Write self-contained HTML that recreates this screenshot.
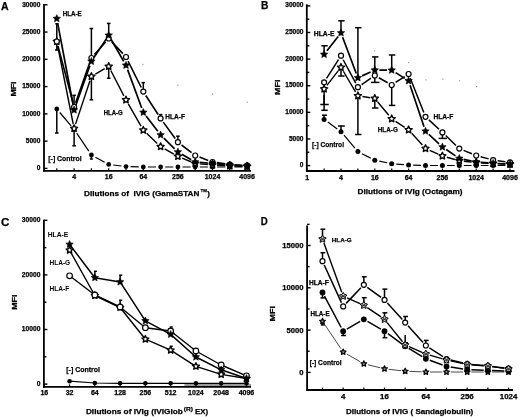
<!DOCTYPE html>
<html><head><meta charset="utf-8"><style>
html,body{margin:0;padding:0;background:#fff;width:520px;height:417px;overflow:hidden}
svg{display:block;will-change:transform;filter:blur(0.35px)}
text{font-family:"Liberation Sans",sans-serif;fill:#000}
</style></head><body>
<svg width="520" height="417" viewBox="0 0 520 417">
<rect width="520" height="417" fill="#fff"/>
<circle cx="142.9" cy="64.3" r="0.65" fill="#888"/>
<circle cx="177.9" cy="85.2" r="0.65" fill="#888"/>
<circle cx="212.6" cy="94.1" r="0.65" fill="#888"/>
<circle cx="247.2" cy="102.2" r="0.65" fill="#888"/>
<circle cx="374.8" cy="50.8" r="0.65" fill="#888"/>
<circle cx="408.7" cy="62.6" r="0.65" fill="#888"/>
<circle cx="426" cy="79.8" r="0.65" fill="#888"/>
<circle cx="442.9" cy="79.1" r="0.65" fill="#888"/>
<circle cx="459.7" cy="80.8" r="0.65" fill="#888"/>
<circle cx="476.6" cy="86.7" r="0.65" fill="#888"/>
<rect x="184.5" y="383.9" width="66.5" height="2.3" fill="#999"/>
<path d="M59.78 112.51 L71.12 125.89 M76.68 133.21 L88.82 151.19 M95.44 157.2 L104.66 162.2 M113.26 164.98 L121.44 166.02 M130.6 166.71 L138.7 166.89 M147.9 167 L156 167 M165.2 167 L173.3 167 M182.5 167 L190.6 167 M199.8 167 L207.9 167 M217.1 167 L225.2 167 M234.4 167 L242.5 167" fill="none" stroke="#000" stroke-width="1.2" stroke-linejoin="round"/>
<path d="M57.7 46.01 L73.2 123.99 M75.55 124.13 L89.95 80.77 M95.38 74.1 L104.72 68.7 M110.81 70.49 L123.89 95.81 M128.28 103.89 L141.02 126.21 M146.64 133.36 L157.26 143.44 M164.61 148.85 L173.89 154.05 M182.15 158.07 L190.95 161.73 M199.78 163.9 L207.92 164.6 M217.09 165.27 L225.21 165.73 M234.4 166.13 L242.5 166.37" fill="none" stroke="#000" stroke-width="1.4" stroke-linejoin="round"/>
<path d="M57.97 45.95 L72.93 102.55 M75.63 102.66 L89.87 62.34 M94.45 54.56 L105.65 41.94 M111.84 41.86 L122.86 53.64 M128.06 61.11 L141.24 87.49 M145.79 95.46 L158.11 114.54 M163.3 122.12 L175.2 138.48 M181.55 145 L191.55 152.7 M199.51 157.12 L208.19 160.38 M217.05 162.66 L225.25 163.84 M234.39 164.77 L242.51 165.23" fill="none" stroke="#000" stroke-width="1.6" stroke-linejoin="round"/>
<path d="M57.66 23.12 L73.24 105.48 M75.64 105.67 L89.86 65.73 M93.94 57.57 L106.16 39.13 M111 39.28 L123.7 61.32 M127.59 69.62 L141.71 108.08 M146.1 116.05 L157.8 131.35 M163.88 138.22 L174.62 148.78 M181.88 154.3 L191.22 159.7 M199.78 162.4 L207.92 163.1 M217.08 163.9 L225.22 164.6 M234.39 165.27 L242.51 165.73" fill="none" stroke="#000" stroke-width="1.7" stroke-linejoin="round"/>
<path d="M327.82 122.11 L337.28 128.99 M343.98 135.21 L354.92 148.09 M362 153.69 L370.7 158.11 M379.3 161.13 L387.2 162.77 M396.29 164.05 L404.01 164.65 M413.2 165.14 L420.9 165.36 M430.1 165.5 L437.8 165.5 M447 165.5 L454.7 165.5 M463.9 165.5 L471.6 165.5 M480.8 165.5 L488.5 165.5 M497.7 165.5 L505.4 165.5" fill="none" stroke="#000" stroke-width="1.2" stroke-linejoin="round"/>
<path d="M326.93 85.37 L338.17 70.93 M343.35 71.26 L355.55 91.84 M362.45 96.5 L370.25 97.7 M377.73 101.94 L388.77 115.26 M395.56 121.31 L404.74 127.29 M411.68 133.21 L422.42 145.09 M429.7 150.37 L438.2 154.13 M446.83 157.23 L454.87 159.47 M463.87 161.19 L471.63 162.01 M480.79 162.77 L488.51 163.23 M497.7 163.69 L505.4 164.01" fill="none" stroke="#000" stroke-width="1.4" stroke-linejoin="round"/>
<path d="M326.57 78.42 L338.53 59.58 M343.17 59.75 L355.73 83.15 M361.68 84.58 L371.02 78.12 M378.81 77.75 L387.69 82.75 M395.56 82.49 L404.74 76.51 M410.29 78.28 L423.81 112.52 M428.88 119.92 L439.02 129.28 M445.72 135.58 L455.98 145.42 M463.56 150.34 L471.94 153.76 M480.64 156.71 L488.66 158.89 M497.66 160.72 L505.44 161.78" fill="none" stroke="#000" stroke-width="1.5" stroke-linejoin="round"/>
<path d="M326.94 50.78 L338.16 36.52 M342.62 37.21 L356.28 73.49 M362.09 75.89 L370.61 72.01 M379.4 70.13 L387.1 70.17 M395.6 72.64 L404.7 78.36 M410.06 85.16 L424.04 126.84 M428.86 134.34 L439.04 143.86 M446.21 149.57 L455.49 155.83 M463.8 159.36 L471.7 161.04 M480.79 162.35 L488.51 162.95 M497.7 163.49 L505.4 163.81" fill="none" stroke="#000" stroke-width="1.7" stroke-linejoin="round"/>
<path d="M69.57 381.2 L94.84 383 L120.11 383.3 L145.38 383.3 L170.65 383.3 L195.92 383.3 L221.19 383.3 L246.46 383.3" fill="none" stroke="#000" stroke-width="1.2" stroke-linejoin="round"/>
<path d="M69.57 250.2 L94.84 295.5 L120.11 307.5 L145.38 339.2 L170.65 350.2 L195.92 366.3 L221.19 374.4 L246.46 378.5" fill="none" stroke="#000" stroke-width="1.4" stroke-linejoin="round"/>
<path d="M69.57 275.8 L94.84 295 L120.11 307 L145.38 327.7 L170.65 331 L195.92 351 L221.19 365 L246.46 375.8" fill="none" stroke="#000" stroke-width="1.4" stroke-linejoin="round"/>
<path d="M69.57 244.4 L94.84 277.7 L120.11 281.9 L145.38 320.8 L170.65 334.4 L195.92 357 L221.19 369.8 L246.46 378.5" fill="none" stroke="#000" stroke-width="1.5" stroke-linejoin="round"/>
<path d="M324.85 324.78 L340.82 348.52 M346.82 354.08 L360.19 361.72 M367.92 364.79 L380.43 367.81 M388.68 369.28 L401.01 370.72 M409.38 371.36 L421.65 371.84 M430.05 372 L442.32 372 M450.72 372 L462.99 372 M471.39 372 L483.66 372 M492.06 372 L504.33 372" fill="none" stroke="#333" stroke-width="0.9" stroke-linejoin="round"/>
<path d="M324.48 296.2 L341.19 327.5 M346.81 329.1 L360.2 321.4 M367.48 321.4 L380.87 329.1 M387.9 333.68 L401.79 343.82 M408.77 348.47 L422.26 356.63 M429.79 360.27 L442.58 365.03 M450.68 367.1 L463.03 368.9 M471.39 369.7 L483.66 370.3 M492.06 370.6 L504.33 370.9" fill="none" stroke="#000" stroke-width="1.5" stroke-linejoin="round"/>
<path d="M323.93 243.05 L341.74 292.25 M347.01 297.89 L360 303.61 M367.32 307.66 L381.03 316.94 M387.14 322.57 L402.55 341.73 M409.03 346.68 L422 352.32 M429.88 355.17 L442.49 358.83 M450.62 360.91 L463.09 363.69 M471.38 364.88 L483.67 365.72 M492.02 366.6 L504.37 368.4" fill="none" stroke="#000" stroke-width="1.4" stroke-linejoin="round"/>
<path d="M324.25 265.02 L341.42 302.58 M346.07 303.37 L360.94 287.83 M367.23 287.28 L381.12 297.42 M387.34 303.01 L402.35 319.49 M407.99 325.72 L423.04 342.38 M429.37 347.8 L443 356.7 M450.6 359.99 L463.11 363.01 M471.37 364.4 L483.68 365.6 M492.03 366.5 L504.36 368" fill="none" stroke="#000" stroke-width="1.5" stroke-linejoin="round"/>
<text x="1" y="9.7" font-size="10.2" font-weight="bold" text-anchor="start" textLength="7.6" lengthAdjust="spacingAndGlyphs" stroke="#000" stroke-width="0.25">A</text>
<path d="M44 4 V171.5" stroke="#000" stroke-width="1.8"/>
<path d="M44 168.4 H47.5" stroke="#000" stroke-width="1.4"/>
<path d="M44 141.13 H47.5" stroke="#000" stroke-width="1.4"/>
<path d="M44 113.86 H47.5" stroke="#000" stroke-width="1.4"/>
<path d="M44 86.59 H47.5" stroke="#000" stroke-width="1.4"/>
<path d="M44 59.32 H47.5" stroke="#000" stroke-width="1.4"/>
<path d="M44 32.05 H47.5" stroke="#000" stroke-width="1.4"/>
<path d="M44 4.78 H47.5" stroke="#000" stroke-width="1.4"/>
<text x="40.4" y="170.3" font-size="7.0" font-weight="bold" text-anchor="end" textLength="3.65" lengthAdjust="spacingAndGlyphs" stroke="#000" stroke-width="0.25">0</text>
<text x="40.4" y="143.03" font-size="7.0" font-weight="bold" text-anchor="end" textLength="14.6" lengthAdjust="spacingAndGlyphs" stroke="#000" stroke-width="0.25">5000</text>
<text x="40.4" y="115.76" font-size="7.0" font-weight="bold" text-anchor="end" textLength="18.25" lengthAdjust="spacingAndGlyphs" stroke="#000" stroke-width="0.25">10000</text>
<text x="40.4" y="88.49" font-size="7.0" font-weight="bold" text-anchor="end" textLength="18.25" lengthAdjust="spacingAndGlyphs" stroke="#000" stroke-width="0.25">15000</text>
<text x="40.4" y="61.22" font-size="7.0" font-weight="bold" text-anchor="end" textLength="18.25" lengthAdjust="spacingAndGlyphs" stroke="#000" stroke-width="0.25">20000</text>
<text x="40.4" y="33.95" font-size="7.0" font-weight="bold" text-anchor="end" textLength="18.25" lengthAdjust="spacingAndGlyphs" stroke="#000" stroke-width="0.25">25000</text>
<text x="40.4" y="6.68" font-size="7.0" font-weight="bold" text-anchor="end" textLength="18.25" lengthAdjust="spacingAndGlyphs" stroke="#000" stroke-width="0.25">30000</text>
<path d="M43 170.8 H251" stroke="#000" stroke-width="1.8"/>
<path d="M56.8 170.8 V168.3" stroke="#000" stroke-width="1.2"/>
<path d="M74.1 170.8 V168.3" stroke="#000" stroke-width="1.2"/>
<path d="M91.4 170.8 V168.3" stroke="#000" stroke-width="1.2"/>
<path d="M108.7 170.8 V168.3" stroke="#000" stroke-width="1.2"/>
<path d="M126 170.8 V168.3" stroke="#000" stroke-width="1.2"/>
<path d="M143.3 170.8 V168.3" stroke="#000" stroke-width="1.2"/>
<path d="M160.6 170.8 V168.3" stroke="#000" stroke-width="1.2"/>
<path d="M177.9 170.8 V168.3" stroke="#000" stroke-width="1.2"/>
<path d="M195.2 170.8 V168.3" stroke="#000" stroke-width="1.2"/>
<path d="M212.5 170.8 V168.3" stroke="#000" stroke-width="1.2"/>
<path d="M229.8 170.8 V168.3" stroke="#000" stroke-width="1.2"/>
<path d="M247.1 170.8 V168.3" stroke="#000" stroke-width="1.2"/>
<text x="72.15" y="179.4" font-size="7.0" font-weight="bold" text-anchor="start" textLength="3.9" lengthAdjust="spacingAndGlyphs" stroke="#000" stroke-width="0.25">4</text>
<text x="104.8" y="179.4" font-size="7.0" font-weight="bold" text-anchor="start" textLength="7.8" lengthAdjust="spacingAndGlyphs" stroke="#000" stroke-width="0.25">16</text>
<text x="139.4" y="179.4" font-size="7.0" font-weight="bold" text-anchor="start" textLength="7.8" lengthAdjust="spacingAndGlyphs" stroke="#000" stroke-width="0.25">64</text>
<text x="172.05" y="179.4" font-size="7.0" font-weight="bold" text-anchor="start" textLength="11.7" lengthAdjust="spacingAndGlyphs" stroke="#000" stroke-width="0.25">256</text>
<text x="204.7" y="179.4" font-size="7.0" font-weight="bold" text-anchor="start" textLength="15.6" lengthAdjust="spacingAndGlyphs" stroke="#000" stroke-width="0.25">1024</text>
<text x="239.3" y="179.4" font-size="7.0" font-weight="bold" text-anchor="start" textLength="15.6" lengthAdjust="spacingAndGlyphs" stroke="#000" stroke-width="0.25">4096</text>
<text transform="translate(16.1 89) rotate(-90)" x="0" y="0" font-size="7.8" font-weight="bold" stroke="#000" stroke-width="0.3" text-anchor="middle" textLength="15.1" lengthAdjust="spacingAndGlyphs">MFI</text>
<text x="84" y="196" font-size="8.1" font-weight="bold" text-anchor="start" textLength="115.4" lengthAdjust="spacingAndGlyphs" stroke="#000" stroke-width="0.25">Dilutions of&#160; IVIG (GamaSTAN</text>
<text x="200.6" y="191.8" font-size="4.4" font-weight="bold" text-anchor="start" textLength="6.3" lengthAdjust="spacingAndGlyphs" stroke="#000" stroke-width="0.25">TM</text>
<text x="207.3" y="196" font-size="8.1" font-weight="bold" text-anchor="start" textLength="2.7" lengthAdjust="spacingAndGlyphs" stroke="#000" stroke-width="0.25">)</text>
<text x="62.7" y="15.6" font-size="6.4" font-weight="bold" text-anchor="start" textLength="19" lengthAdjust="spacingAndGlyphs" stroke="#000" stroke-width="0.25">HLA-E</text>
<text x="103.7" y="114.6" font-size="6.4" font-weight="bold" text-anchor="start" textLength="19" lengthAdjust="spacingAndGlyphs" stroke="#000" stroke-width="0.25">HLA-G</text>
<text x="165.3" y="119" font-size="6.6" font-weight="bold" text-anchor="start" textLength="19.6" lengthAdjust="spacingAndGlyphs" stroke="#000" stroke-width="0.25">HLA-F</text>
<text x="48.3" y="160.6" font-size="7.9" font-weight="bold" text-anchor="start" textLength="33.4" lengthAdjust="spacingAndGlyphs" stroke="#000" stroke-width="0.25">[-] Control</text>
<text x="260.9" y="9.4" font-size="10.9" font-weight="bold" text-anchor="start" textLength="7.4" lengthAdjust="spacingAndGlyphs" stroke="#000" stroke-width="0.25">B</text>
<path d="M306.8 4.3 V171.8" stroke="#000" stroke-width="1.8"/>
<path d="M306.8 165.6 H310.3" stroke="#000" stroke-width="1.4"/>
<path d="M306.8 152.29 H309.3" stroke="#000" stroke-width="1.4"/>
<path d="M306.8 138.98 H310.3" stroke="#000" stroke-width="1.4"/>
<path d="M306.8 125.67 H309.3" stroke="#000" stroke-width="1.4"/>
<path d="M306.8 112.36 H310.3" stroke="#000" stroke-width="1.4"/>
<path d="M306.8 99.05 H309.3" stroke="#000" stroke-width="1.4"/>
<path d="M306.8 85.74 H310.3" stroke="#000" stroke-width="1.4"/>
<path d="M306.8 72.43 H309.3" stroke="#000" stroke-width="1.4"/>
<path d="M306.8 59.12 H310.3" stroke="#000" stroke-width="1.4"/>
<path d="M306.8 45.81 H309.3" stroke="#000" stroke-width="1.4"/>
<path d="M306.8 32.5 H310.3" stroke="#000" stroke-width="1.4"/>
<path d="M306.8 19.19 H309.3" stroke="#000" stroke-width="1.4"/>
<path d="M306.8 5.88 H310.3" stroke="#000" stroke-width="1.4"/>
<text x="303.5" y="167.2" font-size="7.0" font-weight="bold" text-anchor="end" textLength="3.65" lengthAdjust="spacingAndGlyphs" stroke="#000" stroke-width="0.25">0</text>
<text x="303.5" y="140.58" font-size="7.0" font-weight="bold" text-anchor="end" textLength="14.6" lengthAdjust="spacingAndGlyphs" stroke="#000" stroke-width="0.25">5000</text>
<text x="303.5" y="113.96" font-size="7.0" font-weight="bold" text-anchor="end" textLength="18.25" lengthAdjust="spacingAndGlyphs" stroke="#000" stroke-width="0.25">10000</text>
<text x="303.5" y="87.34" font-size="7.0" font-weight="bold" text-anchor="end" textLength="18.25" lengthAdjust="spacingAndGlyphs" stroke="#000" stroke-width="0.25">15000</text>
<text x="303.5" y="60.72" font-size="7.0" font-weight="bold" text-anchor="end" textLength="18.25" lengthAdjust="spacingAndGlyphs" stroke="#000" stroke-width="0.25">20000</text>
<text x="303.5" y="34.1" font-size="7.0" font-weight="bold" text-anchor="end" textLength="18.25" lengthAdjust="spacingAndGlyphs" stroke="#000" stroke-width="0.25">25000</text>
<text x="303.5" y="7.48" font-size="7.0" font-weight="bold" text-anchor="end" textLength="18.25" lengthAdjust="spacingAndGlyphs" stroke="#000" stroke-width="0.25">30000</text>
<path d="M306 171 H514.5" stroke="#000" stroke-width="1.8"/>
<path d="M307.2 171 V168.5" stroke="#000" stroke-width="1.2"/>
<path d="M324.1 171 V168.5" stroke="#000" stroke-width="1.2"/>
<path d="M341 171 V168.5" stroke="#000" stroke-width="1.2"/>
<path d="M357.9 171 V168.5" stroke="#000" stroke-width="1.2"/>
<path d="M374.8 171 V168.5" stroke="#000" stroke-width="1.2"/>
<path d="M391.7 171 V168.5" stroke="#000" stroke-width="1.2"/>
<path d="M408.6 171 V168.5" stroke="#000" stroke-width="1.2"/>
<path d="M425.5 171 V168.5" stroke="#000" stroke-width="1.2"/>
<path d="M442.4 171 V168.5" stroke="#000" stroke-width="1.2"/>
<path d="M459.3 171 V168.5" stroke="#000" stroke-width="1.2"/>
<path d="M476.2 171 V168.5" stroke="#000" stroke-width="1.2"/>
<path d="M493.1 171 V168.5" stroke="#000" stroke-width="1.2"/>
<path d="M510 171 V168.5" stroke="#000" stroke-width="1.2"/>
<text x="305.25" y="179.6" font-size="7.0" font-weight="bold" text-anchor="start" textLength="3.9" lengthAdjust="spacingAndGlyphs" stroke="#000" stroke-width="0.25">1</text>
<text x="339.05" y="179.6" font-size="7.0" font-weight="bold" text-anchor="start" textLength="3.9" lengthAdjust="spacingAndGlyphs" stroke="#000" stroke-width="0.25">4</text>
<text x="370.9" y="179.6" font-size="7.0" font-weight="bold" text-anchor="start" textLength="7.8" lengthAdjust="spacingAndGlyphs" stroke="#000" stroke-width="0.25">16</text>
<text x="404.7" y="179.6" font-size="7.0" font-weight="bold" text-anchor="start" textLength="7.8" lengthAdjust="spacingAndGlyphs" stroke="#000" stroke-width="0.25">64</text>
<text x="436.55" y="179.6" font-size="7.0" font-weight="bold" text-anchor="start" textLength="11.7" lengthAdjust="spacingAndGlyphs" stroke="#000" stroke-width="0.25">256</text>
<text x="468.4" y="179.6" font-size="7.0" font-weight="bold" text-anchor="start" textLength="15.6" lengthAdjust="spacingAndGlyphs" stroke="#000" stroke-width="0.25">1024</text>
<text x="502.2" y="179.6" font-size="7.0" font-weight="bold" text-anchor="start" textLength="15.6" lengthAdjust="spacingAndGlyphs" stroke="#000" stroke-width="0.25">4096</text>
<text transform="translate(279.6 87.3) rotate(-90)" x="0" y="0" font-size="7.8" font-weight="bold" stroke="#000" stroke-width="0.3" text-anchor="middle" textLength="15.3" lengthAdjust="spacingAndGlyphs">MFI</text>
<text x="357.5" y="194.3" font-size="7.9" font-weight="bold" text-anchor="start" textLength="105" lengthAdjust="spacingAndGlyphs" stroke="#000" stroke-width="0.25">Dilutions of IVIg (Octagam)</text>
<text x="313.8" y="36.3" font-size="7" font-weight="bold" text-anchor="start" textLength="20.7" lengthAdjust="spacingAndGlyphs" stroke="#000" stroke-width="0.25">HLA-E</text>
<text x="377.8" y="132.3" font-size="7" font-weight="bold" text-anchor="start" textLength="20" lengthAdjust="spacingAndGlyphs" stroke="#000" stroke-width="0.25">HLA-G</text>
<text x="433.4" y="119.4" font-size="7" font-weight="bold" text-anchor="start" textLength="20" lengthAdjust="spacingAndGlyphs" stroke="#000" stroke-width="0.25">HLA-F</text>
<text x="312" y="146.6" font-size="7.8" font-weight="bold" text-anchor="start" textLength="32" lengthAdjust="spacingAndGlyphs" stroke="#000" stroke-width="0.25">[-] Control</text>
<text x="1" y="225.5" font-size="11.2" font-weight="bold" text-anchor="start" textLength="8.4" lengthAdjust="spacingAndGlyphs" stroke="#000" stroke-width="0.25">C</text>
<path d="M43.9 219.8 V387.7" stroke="#000" stroke-width="1.8"/>
<path d="M43.9 384.1 H47.4" stroke="#000" stroke-width="1.4"/>
<path d="M43.9 356.8 H46.4" stroke="#000" stroke-width="1.4"/>
<path d="M43.9 329.5 H47.4" stroke="#000" stroke-width="1.4"/>
<path d="M43.9 302.2 H46.4" stroke="#000" stroke-width="1.4"/>
<path d="M43.9 274.9 H47.4" stroke="#000" stroke-width="1.4"/>
<path d="M43.9 247.6 H46.4" stroke="#000" stroke-width="1.4"/>
<path d="M43.9 220.3 H47.4" stroke="#000" stroke-width="1.4"/>
<text x="40.4" y="385.9" font-size="7.0" font-weight="bold" text-anchor="end" textLength="3.72" lengthAdjust="spacingAndGlyphs" stroke="#000" stroke-width="0.25">0</text>
<text x="40.4" y="331.3" font-size="7.0" font-weight="bold" text-anchor="end" textLength="18.6" lengthAdjust="spacingAndGlyphs" stroke="#000" stroke-width="0.25">10000</text>
<text x="40.4" y="276.7" font-size="7.0" font-weight="bold" text-anchor="end" textLength="18.6" lengthAdjust="spacingAndGlyphs" stroke="#000" stroke-width="0.25">20000</text>
<text x="40.4" y="222.1" font-size="7.0" font-weight="bold" text-anchor="end" textLength="18.6" lengthAdjust="spacingAndGlyphs" stroke="#000" stroke-width="0.25">30000</text>
<path d="M43 386.9 H251" stroke="#000" stroke-width="1.8"/>
<path d="M44.3 386.9 V384.4" stroke="#000" stroke-width="1.2"/>
<path d="M69.57 386.9 V384.4" stroke="#000" stroke-width="1.2"/>
<path d="M94.84 386.9 V384.4" stroke="#000" stroke-width="1.2"/>
<path d="M120.11 386.9 V384.4" stroke="#000" stroke-width="1.2"/>
<path d="M145.38 386.9 V384.4" stroke="#000" stroke-width="1.2"/>
<path d="M170.65 386.9 V384.4" stroke="#000" stroke-width="1.2"/>
<path d="M195.92 386.9 V384.4" stroke="#000" stroke-width="1.2"/>
<path d="M221.19 386.9 V384.4" stroke="#000" stroke-width="1.2"/>
<path d="M246.46 386.9 V384.4" stroke="#000" stroke-width="1.2"/>
<text x="40.4" y="395" font-size="7.0" font-weight="bold" text-anchor="start" textLength="7.8" lengthAdjust="spacingAndGlyphs" stroke="#000" stroke-width="0.25">16</text>
<text x="65.67" y="395" font-size="7.0" font-weight="bold" text-anchor="start" textLength="7.8" lengthAdjust="spacingAndGlyphs" stroke="#000" stroke-width="0.25">32</text>
<text x="90.94" y="395" font-size="7.0" font-weight="bold" text-anchor="start" textLength="7.8" lengthAdjust="spacingAndGlyphs" stroke="#000" stroke-width="0.25">64</text>
<text x="114.26" y="395" font-size="7.0" font-weight="bold" text-anchor="start" textLength="11.7" lengthAdjust="spacingAndGlyphs" stroke="#000" stroke-width="0.25">128</text>
<text x="139.53" y="395" font-size="7.0" font-weight="bold" text-anchor="start" textLength="11.7" lengthAdjust="spacingAndGlyphs" stroke="#000" stroke-width="0.25">256</text>
<text x="164.8" y="395" font-size="7.0" font-weight="bold" text-anchor="start" textLength="11.7" lengthAdjust="spacingAndGlyphs" stroke="#000" stroke-width="0.25">512</text>
<text x="188.12" y="395" font-size="7.0" font-weight="bold" text-anchor="start" textLength="15.6" lengthAdjust="spacingAndGlyphs" stroke="#000" stroke-width="0.25">1024</text>
<text x="213.39" y="395" font-size="7.0" font-weight="bold" text-anchor="start" textLength="15.6" lengthAdjust="spacingAndGlyphs" stroke="#000" stroke-width="0.25">2048</text>
<text x="238.66" y="395" font-size="7.0" font-weight="bold" text-anchor="start" textLength="15.6" lengthAdjust="spacingAndGlyphs" stroke="#000" stroke-width="0.25">4096</text>
<text transform="translate(16.7 302.2) rotate(-90)" x="0" y="0" font-size="7.8" font-weight="bold" stroke="#000" stroke-width="0.3" text-anchor="middle" textLength="15.2" lengthAdjust="spacingAndGlyphs">MFI</text>
<text x="85.9" y="413.6" font-size="7.9" font-weight="bold" text-anchor="start" textLength="97" lengthAdjust="spacingAndGlyphs" stroke="#000" stroke-width="0.25">Dilutions of IVIg (IVIGlob</text>
<text x="183.8" y="410.6" font-size="5.6" font-weight="bold" text-anchor="start" textLength="9.2" lengthAdjust="spacingAndGlyphs" stroke="#000" stroke-width="0.25">(R)</text>
<text x="195" y="413.7" font-size="7.9" font-weight="bold" text-anchor="start" textLength="13.1" lengthAdjust="spacingAndGlyphs" stroke="#000" stroke-width="0.25">EX)</text>
<text x="47.7" y="237.4" font-size="7" font-weight="bold" text-anchor="start" textLength="20.7" lengthAdjust="spacingAndGlyphs">HLA-E</text>
<text x="49.5" y="264.6" font-size="7" font-weight="bold" text-anchor="start" textLength="20.7" lengthAdjust="spacingAndGlyphs">HLA-G</text>
<text x="49.5" y="291.3" font-size="7" font-weight="bold" text-anchor="start" textLength="19.8" lengthAdjust="spacingAndGlyphs">HLA-F</text>
<text x="66.3" y="372.4" font-size="7.6" font-weight="bold" text-anchor="start" textLength="33.7" lengthAdjust="spacingAndGlyphs" stroke="#000" stroke-width="0.25">[-] Control</text>
<text x="260.7" y="225.2" font-size="10.6" font-weight="bold" text-anchor="start" textLength="7" lengthAdjust="spacingAndGlyphs" stroke="#000" stroke-width="0.25">D</text>
<path d="M307.1 225.6 V390.6" stroke="#000" stroke-width="1.8"/>
<path d="M307.1 372.4 H310.6" stroke="#000" stroke-width="1.4"/>
<path d="M307.1 351.25 H309.6" stroke="#000" stroke-width="1.4"/>
<path d="M307.1 330.1 H310.6" stroke="#000" stroke-width="1.4"/>
<path d="M307.1 308.95 H309.6" stroke="#000" stroke-width="1.4"/>
<path d="M307.1 287.8 H310.6" stroke="#000" stroke-width="1.4"/>
<path d="M307.1 266.65 H309.6" stroke="#000" stroke-width="1.4"/>
<path d="M307.1 245.5 H310.6" stroke="#000" stroke-width="1.4"/>
<path d="M307.1 224.35 H309.6" stroke="#000" stroke-width="1.4"/>
<text x="303.4" y="374.8" font-size="7.0" font-weight="bold" text-anchor="end" textLength="4.25" lengthAdjust="spacingAndGlyphs" stroke="#000" stroke-width="0.25">0</text>
<text x="303.4" y="332.5" font-size="7.0" font-weight="bold" text-anchor="end" textLength="17" lengthAdjust="spacingAndGlyphs" stroke="#000" stroke-width="0.25">5000</text>
<text x="303.4" y="290.2" font-size="7.0" font-weight="bold" text-anchor="end" textLength="21.25" lengthAdjust="spacingAndGlyphs" stroke="#000" stroke-width="0.25">10000</text>
<text x="303.4" y="247.9" font-size="7.0" font-weight="bold" text-anchor="end" textLength="21.25" lengthAdjust="spacingAndGlyphs" stroke="#000" stroke-width="0.25">15000</text>
<path d="M306.2 390 H513" stroke="#000" stroke-width="1.8"/>
<path d="M322.5 390 V387.5" stroke="#000" stroke-width="1.2"/>
<path d="M343.17 390 V387.5" stroke="#000" stroke-width="1.2"/>
<path d="M363.84 390 V387.5" stroke="#000" stroke-width="1.2"/>
<path d="M384.51 390 V387.5" stroke="#000" stroke-width="1.2"/>
<path d="M405.18 390 V387.5" stroke="#000" stroke-width="1.2"/>
<path d="M425.85 390 V387.5" stroke="#000" stroke-width="1.2"/>
<path d="M446.52 390 V387.5" stroke="#000" stroke-width="1.2"/>
<path d="M467.19 390 V387.5" stroke="#000" stroke-width="1.2"/>
<path d="M487.86 390 V387.5" stroke="#000" stroke-width="1.2"/>
<path d="M508.53 390 V387.5" stroke="#000" stroke-width="1.2"/>
<text x="340.99" y="399.3" font-size="7.0" font-weight="bold" text-anchor="start" textLength="4.37" lengthAdjust="spacingAndGlyphs" stroke="#000" stroke-width="0.25">4</text>
<text x="380.14" y="399.3" font-size="7.0" font-weight="bold" text-anchor="start" textLength="8.74" lengthAdjust="spacingAndGlyphs" stroke="#000" stroke-width="0.25">16</text>
<text x="421.48" y="399.3" font-size="7.0" font-weight="bold" text-anchor="start" textLength="8.74" lengthAdjust="spacingAndGlyphs" stroke="#000" stroke-width="0.25">64</text>
<text x="460.63" y="399.3" font-size="7.0" font-weight="bold" text-anchor="start" textLength="13.11" lengthAdjust="spacingAndGlyphs" stroke="#000" stroke-width="0.25">256</text>
<text x="499.79" y="399.3" font-size="7.0" font-weight="bold" text-anchor="start" textLength="17.48" lengthAdjust="spacingAndGlyphs" stroke="#000" stroke-width="0.25">1024</text>
<text transform="translate(275.1 313.8) rotate(-90)" x="0" y="0" font-size="7.8" font-weight="bold" stroke="#000" stroke-width="0.3" text-anchor="middle" textLength="15.4" lengthAdjust="spacingAndGlyphs">MFI</text>
<text x="345.9" y="414.2" font-size="7.9" font-weight="bold" text-anchor="start" textLength="127.4" lengthAdjust="spacingAndGlyphs" stroke="#000" stroke-width="0.25">Dilutions of IVIG ( Sandaglobulin)</text>
<text x="331.8" y="242" font-size="6.2" font-weight="bold" text-anchor="start" textLength="19.9" lengthAdjust="spacingAndGlyphs" stroke="#000" stroke-width="0.25">HLA-G</text>
<text x="309" y="285.3" font-size="6.6" font-weight="bold" text-anchor="start" textLength="19.8" lengthAdjust="spacingAndGlyphs" stroke="#000" stroke-width="0.25">HLA-F</text>
<text x="310.4" y="315.9" font-size="6.6" font-weight="bold" text-anchor="start" textLength="19.3" lengthAdjust="spacingAndGlyphs" stroke="#000" stroke-width="0.25">HLA-E</text>
<text x="309.7" y="364.5" font-size="7.2" font-weight="bold" text-anchor="start" textLength="31.9" lengthAdjust="spacingAndGlyphs" stroke="#000" stroke-width="0.25">[-] Control</text>
<path d="M56.8 40 V23.8" stroke="#000" stroke-width="1.5"/>
<path d="M55.3 23.8 H58.3" stroke="#000" stroke-width="1.5"/>
<path d="M56.8 42 V50" stroke="#000" stroke-width="1.5"/>
<path d="M55 50 H58.6" stroke="#000" stroke-width="1.5"/>
<path d="M74.1 108 V95.3" stroke="#000" stroke-width="1.5"/>
<path d="M72.3 95.3 H75.9" stroke="#000" stroke-width="1.5"/>
<path d="M74.1 129 V145.8" stroke="#000" stroke-width="1.5"/>
<path d="M72.3 145.8 H75.9" stroke="#000" stroke-width="1.5"/>
<path d="M91.4 58 V28.5" stroke="#000" stroke-width="1.5"/>
<path d="M89.6 28.5 H93.2" stroke="#000" stroke-width="1.5"/>
<path d="M91.4 76.4 V99.8" stroke="#000" stroke-width="1.5"/>
<path d="M89.6 99.8 H93.2" stroke="#000" stroke-width="1.5"/>
<path d="M108.7 36 V23.4" stroke="#000" stroke-width="1.5"/>
<path d="M106.9 23.4 H110.5" stroke="#000" stroke-width="1.5"/>
<path d="M108.7 66.4 V78.2" stroke="#000" stroke-width="1.5"/>
<path d="M106.9 78.2 H110.5" stroke="#000" stroke-width="1.5"/>
<path d="M143.3 91.6 V82.6" stroke="#000" stroke-width="1.5"/>
<path d="M141.5 82.6 H145.1" stroke="#000" stroke-width="1.5"/>
<path d="M160.6 118.4 V114.6" stroke="#000" stroke-width="1.5"/>
<path d="M158.8 114.6 H162.4" stroke="#000" stroke-width="1.5"/>
<path d="M177.9 142.2 V136.2" stroke="#000" stroke-width="1.5"/>
<path d="M176.1 136.2 H179.7" stroke="#000" stroke-width="1.5"/>
<path d="M56.8 109 V133" stroke="#000" stroke-width="1.5"/>
<path d="M55 133 H58.6" stroke="#000" stroke-width="1.5"/>
<path d="M91.4 155 V159" stroke="#000" stroke-width="1.5"/>
<path d="M89.9 159 H92.9" stroke="#000" stroke-width="1.5"/>
<path d="M324.1 54.4 V45.8" stroke="#000" stroke-width="1.5"/>
<path d="M321.3 45.8 H327.7" stroke="#000" stroke-width="1.5"/>
<path d="M341 32.9 V20.8" stroke="#000" stroke-width="1.5"/>
<path d="M338.2 20.8 H344.6" stroke="#000" stroke-width="1.5"/>
<path d="M357.9 80 V27.7" stroke="#000" stroke-width="1.5"/>
<path d="M355.1 27.7 H361.5" stroke="#000" stroke-width="1.5"/>
<path d="M357.9 95.8 V134.5" stroke="#000" stroke-width="1.5"/>
<path d="M355.1 134.5 H361.5" stroke="#000" stroke-width="1.5"/>
<path d="M324.1 89 V110.3" stroke="#000" stroke-width="1.5"/>
<path d="M321.3 110.3 H327.7" stroke="#000" stroke-width="1.5"/>
<path d="M324.1 95 V104.5" stroke="#000" stroke-width="1.5"/>
<path d="M320.29 104.5 H328.71" stroke="#000" stroke-width="1.5"/>
<path d="M341 67.3 V76" stroke="#000" stroke-width="1.5"/>
<path d="M338.2 76 H344.6" stroke="#000" stroke-width="1.5"/>
<path d="M374.8 70 V56.9" stroke="#000" stroke-width="1.5"/>
<path d="M372 56.9 H378.4" stroke="#000" stroke-width="1.5"/>
<path d="M374.8 75.5 V82.4" stroke="#000" stroke-width="1.5"/>
<path d="M370.99 82.4 H379.41" stroke="#000" stroke-width="1.5"/>
<path d="M374.8 98.4 V108" stroke="#000" stroke-width="1.5"/>
<path d="M372 108 H378.4" stroke="#000" stroke-width="1.5"/>
<path d="M391.7 70 V55" stroke="#000" stroke-width="1.5"/>
<path d="M388.9 55 H395.3" stroke="#000" stroke-width="1.5"/>
<path d="M391.7 85 V105.4" stroke="#000" stroke-width="1.5"/>
<path d="M388.9 105.4 H395.3" stroke="#000" stroke-width="1.5"/>
<path d="M442.4 132.4 V138.4" stroke="#000" stroke-width="1.5"/>
<path d="M438.59 138.4 H447.01" stroke="#000" stroke-width="1.5"/>
<path d="M324.1 119.4 V115.2" stroke="#000" stroke-width="1.5"/>
<path d="M321.97 115.2 H327.03" stroke="#000" stroke-width="1.5"/>
<path d="M341 131.7 V126" stroke="#000" stroke-width="1.5"/>
<path d="M338.03 126 H344.77" stroke="#000" stroke-width="1.5"/>
<path d="M94.84 277.7 V271.3" stroke="#000" stroke-width="1.5"/>
<path d="M93.94 271.3 H96.94" stroke="#000" stroke-width="1.5"/>
<path d="M120.11 281.9 V275.2" stroke="#000" stroke-width="1.5"/>
<path d="M119.21 275.2 H122.21" stroke="#000" stroke-width="1.5"/>
<path d="M120.11 307 V300.2" stroke="#000" stroke-width="1.5"/>
<path d="M119.21 300.2 H122.21" stroke="#000" stroke-width="1.5"/>
<path d="M170.65 331 V327" stroke="#000" stroke-width="1.5"/>
<path d="M169.75 327 H172.75" stroke="#000" stroke-width="1.5"/>
<path d="M170.65 350.2 V346.3" stroke="#000" stroke-width="1.5"/>
<path d="M169.75 346.3 H172.75" stroke="#000" stroke-width="1.5"/>
<path d="M322.5 238.4 V229.2" stroke="#000" stroke-width="1.5"/>
<path d="M320.5 229.2 H325.3" stroke="#000" stroke-width="1.5"/>
<path d="M322.5 261.2 V252.7" stroke="#000" stroke-width="1.5"/>
<path d="M320.5 252.7 H325.3" stroke="#000" stroke-width="1.5"/>
<path d="M322.5 292.5 V297.9" stroke="#000" stroke-width="1.5"/>
<path d="M320.5 297.9 H325.3" stroke="#000" stroke-width="1.5"/>
<path d="M322.5 321.3 V324.9" stroke="#000" stroke-width="1.5"/>
<path d="M320.9 324.9 H324.9" stroke="#000" stroke-width="1.5"/>
<path d="M343.17 331.2 V335.5" stroke="#000" stroke-width="1.5"/>
<path d="M341.17 335.5 H345.97" stroke="#000" stroke-width="1.5"/>
<path d="M363.84 284.8 V276.8" stroke="#000" stroke-width="1.5"/>
<path d="M361.84 276.8 H366.64" stroke="#000" stroke-width="1.5"/>
<path d="M363.84 305.3 V297.7" stroke="#000" stroke-width="1.5"/>
<path d="M361.84 297.7 H366.64" stroke="#000" stroke-width="1.5"/>
<path d="M384.51 299.9 V289.1" stroke="#000" stroke-width="1.5"/>
<path d="M382.51 289.1 H387.31" stroke="#000" stroke-width="1.5"/>
<path d="M384.51 319.3 V312.8" stroke="#000" stroke-width="1.5"/>
<path d="M382.51 312.8 H387.31" stroke="#000" stroke-width="1.5"/>
<path d="M384.51 331.2 V337.7" stroke="#000" stroke-width="1.5"/>
<path d="M382.51 337.7 H387.31" stroke="#000" stroke-width="1.5"/>
<path d="M405.18 322.6 V316.5" stroke="#000" stroke-width="1.5"/>
<path d="M403.18 316.5 H407.98" stroke="#000" stroke-width="1.5"/>
<path d="M405.18 335 V342.7" stroke="#000" stroke-width="1.5"/>
<path d="M403.18 342.7 H407.98" stroke="#000" stroke-width="1.5"/>
<path d="M425.85 345.5 V340.4" stroke="#000" stroke-width="1.5"/>
<path d="M423.85 340.4 H428.65" stroke="#000" stroke-width="1.5"/>
<circle cx="56.8" cy="109" r="2.4" fill="#000"/>
<circle cx="74.1" cy="129.4" r="2.4" fill="#000"/>
<circle cx="91.4" cy="155" r="2.4" fill="#000"/>
<circle cx="108.7" cy="164.4" r="2.4" fill="#000"/>
<circle cx="126" cy="166.6" r="2.4" fill="#000"/>
<circle cx="143.3" cy="167" r="2.4" fill="#000"/>
<circle cx="160.6" cy="167" r="2.4" fill="#000"/>
<circle cx="177.9" cy="167" r="2.4" fill="#000"/>
<circle cx="195.2" cy="167" r="2.4" fill="#000"/>
<circle cx="212.5" cy="167" r="2.4" fill="#000"/>
<circle cx="229.8" cy="167" r="2.4" fill="#000"/>
<circle cx="247.1" cy="167" r="2.4" fill="#000"/>
<path d="M56.8 37.8 L57.84 40.06 L60.32 40.36 L58.49 42.05 L58.97 44.49 L56.8 43.28 L54.63 44.49 L55.11 42.05 L53.28 40.36 L55.76 40.06Z" fill="#fff" stroke="#000" stroke-width="1.4" stroke-linejoin="round"/>
<path d="M74.1 124.8 L75.14 127.06 L77.62 127.36 L75.79 129.05 L76.27 131.49 L74.1 130.28 L71.93 131.49 L72.41 129.05 L70.58 127.36 L73.06 127.06Z" fill="#fff" stroke="#000" stroke-width="1.4" stroke-linejoin="round"/>
<path d="M91.4 72.7 L92.44 74.96 L94.92 75.26 L93.09 76.95 L93.57 79.39 L91.4 78.18 L89.23 79.39 L89.71 76.95 L87.88 75.26 L90.36 74.96Z" fill="#fff" stroke="#000" stroke-width="1.4" stroke-linejoin="round"/>
<path d="M108.7 62.7 L109.74 64.96 L112.22 65.26 L110.39 66.95 L110.87 69.39 L108.7 68.18 L106.53 69.39 L107.01 66.95 L105.18 65.26 L107.66 64.96Z" fill="#fff" stroke="#000" stroke-width="1.4" stroke-linejoin="round"/>
<path d="M126 96.2 L127.04 98.46 L129.52 98.76 L127.69 100.45 L128.17 102.89 L126 101.68 L123.83 102.89 L124.31 100.45 L122.48 98.76 L124.96 98.46Z" fill="#fff" stroke="#000" stroke-width="1.4" stroke-linejoin="round"/>
<path d="M143.3 126.5 L144.34 128.76 L146.82 129.06 L144.99 130.75 L145.47 133.19 L143.3 131.98 L141.13 133.19 L141.61 130.75 L139.78 129.06 L142.26 128.76Z" fill="#fff" stroke="#000" stroke-width="1.4" stroke-linejoin="round"/>
<path d="M160.6 142.9 L161.64 145.16 L164.12 145.46 L162.29 147.15 L162.77 149.59 L160.6 148.38 L158.43 149.59 L158.91 147.15 L157.08 145.46 L159.56 145.16Z" fill="#fff" stroke="#000" stroke-width="1.4" stroke-linejoin="round"/>
<path d="M177.9 152.6 L178.94 154.86 L181.42 155.16 L179.59 156.85 L180.07 159.29 L177.9 158.08 L175.73 159.29 L176.21 156.85 L174.38 155.16 L176.86 154.86Z" fill="#fff" stroke="#000" stroke-width="1.4" stroke-linejoin="round"/>
<path d="M195.2 159.8 L196.24 162.06 L198.72 162.36 L196.89 164.05 L197.37 166.49 L195.2 165.28 L193.03 166.49 L193.51 164.05 L191.68 162.36 L194.16 162.06Z" fill="#fff" stroke="#000" stroke-width="1.4" stroke-linejoin="round"/>
<path d="M212.5 161.3 L213.54 163.56 L216.02 163.86 L214.19 165.55 L214.67 167.99 L212.5 166.78 L210.33 167.99 L210.81 165.55 L208.98 163.86 L211.46 163.56Z" fill="#fff" stroke="#000" stroke-width="1.4" stroke-linejoin="round"/>
<path d="M229.8 162.3 L230.84 164.56 L233.32 164.86 L231.49 166.55 L231.97 168.99 L229.8 167.78 L227.63 168.99 L228.11 166.55 L226.28 164.86 L228.76 164.56Z" fill="#fff" stroke="#000" stroke-width="1.4" stroke-linejoin="round"/>
<path d="M247.1 162.8 L248.14 165.06 L250.62 165.36 L248.79 167.05 L249.27 169.49 L247.1 168.28 L244.93 169.49 L245.41 167.05 L243.58 165.36 L246.06 165.06Z" fill="#fff" stroke="#000" stroke-width="1.4" stroke-linejoin="round"/>
<circle cx="56.8" cy="41.5" r="2.5" fill="#fff" stroke="#000" stroke-width="1.2"/>
<circle cx="74.1" cy="107" r="2.5" fill="#fff" stroke="#000" stroke-width="1.2"/>
<circle cx="91.4" cy="58" r="2.5" fill="#fff" stroke="#000" stroke-width="1.2"/>
<circle cx="108.7" cy="38.5" r="2.5" fill="#fff" stroke="#000" stroke-width="1.2"/>
<circle cx="126" cy="57" r="2.5" fill="#fff" stroke="#000" stroke-width="1.2"/>
<circle cx="143.3" cy="91.6" r="2.5" fill="#fff" stroke="#000" stroke-width="1.2"/>
<circle cx="160.6" cy="118.4" r="2.5" fill="#fff" stroke="#000" stroke-width="1.2"/>
<circle cx="177.9" cy="142.2" r="2.5" fill="#fff" stroke="#000" stroke-width="1.2"/>
<circle cx="195.2" cy="155.5" r="2.5" fill="#fff" stroke="#000" stroke-width="1.2"/>
<circle cx="212.5" cy="162" r="2.5" fill="#fff" stroke="#000" stroke-width="1.2"/>
<circle cx="229.8" cy="164.5" r="2.5" fill="#fff" stroke="#000" stroke-width="1.2"/>
<circle cx="247.1" cy="165.5" r="2.5" fill="#fff" stroke="#000" stroke-width="1.2"/>
<path d="M56.8 14.7 L57.9 17.09 L60.51 17.39 L58.58 19.18 L59.09 21.76 L56.8 20.47 L54.51 21.76 L55.02 19.18 L53.09 17.39 L55.7 17.09Z" fill="#000" stroke="#000" stroke-width="0.6"/>
<path d="M74.1 106.1 L75.2 108.49 L77.81 108.79 L75.88 110.58 L76.39 113.16 L74.1 111.87 L71.81 113.16 L72.32 110.58 L70.39 108.79 L73 108.49Z" fill="#000" stroke="#000" stroke-width="0.6"/>
<path d="M91.4 57.5 L92.5 59.89 L95.11 60.19 L93.18 61.98 L93.69 64.56 L91.4 63.27 L89.11 64.56 L89.62 61.98 L87.69 60.19 L90.3 59.89Z" fill="#000" stroke="#000" stroke-width="0.6"/>
<path d="M108.7 31.4 L109.8 33.79 L112.41 34.09 L110.48 35.88 L110.99 38.46 L108.7 37.17 L106.41 38.46 L106.92 35.88 L104.99 34.09 L107.6 33.79Z" fill="#000" stroke="#000" stroke-width="0.6"/>
<path d="M126 61.4 L127.1 63.79 L129.71 64.09 L127.78 65.88 L128.29 68.46 L126 67.17 L123.71 68.46 L124.22 65.88 L122.29 64.09 L124.9 63.79Z" fill="#000" stroke="#000" stroke-width="0.6"/>
<path d="M143.3 108.5 L144.4 110.89 L147.01 111.19 L145.08 112.98 L145.59 115.56 L143.3 114.27 L141.01 115.56 L141.52 112.98 L139.59 111.19 L142.2 110.89Z" fill="#000" stroke="#000" stroke-width="0.6"/>
<path d="M160.6 131.1 L161.7 133.49 L164.31 133.79 L162.38 135.58 L162.89 138.16 L160.6 136.87 L158.31 138.16 L158.82 135.58 L156.89 133.79 L159.5 133.49Z" fill="#000" stroke="#000" stroke-width="0.6"/>
<path d="M177.9 148.1 L179 150.49 L181.61 150.79 L179.68 152.58 L180.19 155.16 L177.9 153.87 L175.61 155.16 L176.12 152.58 L174.19 150.79 L176.8 150.49Z" fill="#000" stroke="#000" stroke-width="0.6"/>
<path d="M195.2 158.1 L196.3 160.49 L198.91 160.79 L196.98 162.58 L197.49 165.16 L195.2 163.87 L192.91 165.16 L193.42 162.58 L191.49 160.79 L194.1 160.49Z" fill="#000" stroke="#000" stroke-width="0.6"/>
<path d="M212.5 159.6 L213.6 161.99 L216.21 162.29 L214.28 164.08 L214.79 166.66 L212.5 165.37 L210.21 166.66 L210.72 164.08 L208.79 162.29 L211.4 161.99Z" fill="#000" stroke="#000" stroke-width="0.6"/>
<path d="M229.8 161.1 L230.9 163.49 L233.51 163.79 L231.58 165.58 L232.09 168.16 L229.8 166.87 L227.51 168.16 L228.02 165.58 L226.09 163.79 L228.7 163.49Z" fill="#000" stroke="#000" stroke-width="0.6"/>
<path d="M247.1 162.1 L248.2 164.49 L250.81 164.79 L248.88 166.58 L249.39 169.16 L247.1 167.87 L244.81 169.16 L245.32 166.58 L243.39 164.79 L246 164.49Z" fill="#000" stroke="#000" stroke-width="0.6"/>
<circle cx="212.5" cy="163.6" r="2.9" fill="#000"/>
<circle cx="229.8" cy="164.6" r="2.9" fill="#000"/>
<circle cx="247.1" cy="165.4" r="2.9" fill="#000"/>
<circle cx="324.1" cy="119.4" r="2.5" fill="#000"/>
<circle cx="341" cy="131.7" r="2.5" fill="#000"/>
<circle cx="357.9" cy="151.6" r="2.5" fill="#000"/>
<circle cx="374.8" cy="160.2" r="2.5" fill="#000"/>
<circle cx="391.7" cy="163.7" r="2.5" fill="#000"/>
<circle cx="408.6" cy="165" r="2.5" fill="#000"/>
<circle cx="425.5" cy="165.5" r="2.5" fill="#000"/>
<circle cx="442.4" cy="165.5" r="2.5" fill="#000"/>
<circle cx="459.3" cy="165.5" r="2.5" fill="#000"/>
<circle cx="476.2" cy="165.5" r="2.5" fill="#000"/>
<circle cx="493.1" cy="165.5" r="2.5" fill="#000"/>
<circle cx="510" cy="165.5" r="2.5" fill="#000"/>
<path d="M324.1 85.3 L325.14 87.56 L327.62 87.86 L325.79 89.55 L326.27 91.99 L324.1 90.78 L321.93 91.99 L322.41 89.55 L320.58 87.86 L323.06 87.56Z" fill="#fff" stroke="#000" stroke-width="1.4" stroke-linejoin="round"/>
<path d="M341 63.6 L342.04 65.86 L344.52 66.16 L342.69 67.85 L343.17 70.29 L341 69.08 L338.83 70.29 L339.31 67.85 L337.48 66.16 L339.96 65.86Z" fill="#fff" stroke="#000" stroke-width="1.4" stroke-linejoin="round"/>
<path d="M357.9 92.1 L358.94 94.36 L361.42 94.66 L359.59 96.35 L360.07 98.79 L357.9 97.58 L355.73 98.79 L356.21 96.35 L354.38 94.66 L356.86 94.36Z" fill="#fff" stroke="#000" stroke-width="1.4" stroke-linejoin="round"/>
<path d="M374.8 94.7 L375.84 96.96 L378.32 97.26 L376.49 98.95 L376.97 101.39 L374.8 100.18 L372.63 101.39 L373.11 98.95 L371.28 97.26 L373.76 96.96Z" fill="#fff" stroke="#000" stroke-width="1.4" stroke-linejoin="round"/>
<path d="M391.7 115.1 L392.74 117.36 L395.22 117.66 L393.39 119.35 L393.87 121.79 L391.7 120.58 L389.53 121.79 L390.01 119.35 L388.18 117.66 L390.66 117.36Z" fill="#fff" stroke="#000" stroke-width="1.4" stroke-linejoin="round"/>
<path d="M408.6 126.1 L409.64 128.36 L412.12 128.66 L410.29 130.35 L410.77 132.79 L408.6 131.58 L406.43 132.79 L406.91 130.35 L405.08 128.66 L407.56 128.36Z" fill="#fff" stroke="#000" stroke-width="1.4" stroke-linejoin="round"/>
<path d="M425.5 144.8 L426.54 147.06 L429.02 147.36 L427.19 149.05 L427.67 151.49 L425.5 150.28 L423.33 151.49 L423.81 149.05 L421.98 147.36 L424.46 147.06Z" fill="#fff" stroke="#000" stroke-width="1.4" stroke-linejoin="round"/>
<path d="M442.4 152.3 L443.44 154.56 L445.92 154.86 L444.09 156.55 L444.57 158.99 L442.4 157.78 L440.23 158.99 L440.71 156.55 L438.88 154.86 L441.36 154.56Z" fill="#fff" stroke="#000" stroke-width="1.4" stroke-linejoin="round"/>
<path d="M459.3 157 L460.34 159.26 L462.82 159.56 L460.99 161.25 L461.47 163.69 L459.3 162.48 L457.13 163.69 L457.61 161.25 L455.78 159.56 L458.26 159.26Z" fill="#fff" stroke="#000" stroke-width="1.4" stroke-linejoin="round"/>
<path d="M476.2 158.8 L477.24 161.06 L479.72 161.36 L477.89 163.05 L478.37 165.49 L476.2 164.28 L474.03 165.49 L474.51 163.05 L472.68 161.36 L475.16 161.06Z" fill="#fff" stroke="#000" stroke-width="1.4" stroke-linejoin="round"/>
<path d="M493.1 159.8 L494.14 162.06 L496.62 162.36 L494.79 164.05 L495.27 166.49 L493.1 165.28 L490.93 166.49 L491.41 164.05 L489.58 162.36 L492.06 162.06Z" fill="#fff" stroke="#000" stroke-width="1.4" stroke-linejoin="round"/>
<path d="M510 160.5 L511.04 162.76 L513.52 163.06 L511.69 164.75 L512.17 167.19 L510 165.98 L507.83 167.19 L508.31 164.75 L506.48 163.06 L508.96 162.76Z" fill="#fff" stroke="#000" stroke-width="1.4" stroke-linejoin="round"/>
<circle cx="324.1" cy="82.3" r="2.5" fill="#fff" stroke="#000" stroke-width="1.2"/>
<circle cx="341" cy="55.7" r="2.5" fill="#fff" stroke="#000" stroke-width="1.2"/>
<circle cx="357.9" cy="87.2" r="2.5" fill="#fff" stroke="#000" stroke-width="1.2"/>
<circle cx="374.8" cy="75.5" r="2.5" fill="#fff" stroke="#000" stroke-width="1.2"/>
<circle cx="391.7" cy="85" r="2.5" fill="#fff" stroke="#000" stroke-width="1.2"/>
<circle cx="408.6" cy="74" r="2.5" fill="#fff" stroke="#000" stroke-width="1.2"/>
<circle cx="425.5" cy="116.8" r="2.5" fill="#fff" stroke="#000" stroke-width="1.2"/>
<circle cx="442.4" cy="132.4" r="2.5" fill="#fff" stroke="#000" stroke-width="1.2"/>
<circle cx="459.3" cy="148.6" r="2.5" fill="#fff" stroke="#000" stroke-width="1.2"/>
<circle cx="476.2" cy="155.5" r="2.5" fill="#fff" stroke="#000" stroke-width="1.2"/>
<circle cx="493.1" cy="160.1" r="2.5" fill="#fff" stroke="#000" stroke-width="1.2"/>
<circle cx="510" cy="162.4" r="2.5" fill="#fff" stroke="#000" stroke-width="1.2"/>
<path d="M324.1 50.5 L325.2 52.89 L327.81 53.19 L325.88 54.98 L326.39 57.56 L324.1 56.27 L321.81 57.56 L322.32 54.98 L320.39 53.19 L323 52.89Z" fill="#000" stroke="#000" stroke-width="0.6"/>
<path d="M341 29 L342.1 31.39 L344.71 31.69 L342.78 33.48 L343.29 36.06 L341 34.77 L338.71 36.06 L339.22 33.48 L337.29 31.69 L339.9 31.39Z" fill="#000" stroke="#000" stroke-width="0.6"/>
<path d="M357.9 73.9 L359 76.29 L361.61 76.59 L359.68 78.38 L360.19 80.96 L357.9 79.67 L355.61 80.96 L356.12 78.38 L354.19 76.59 L356.8 76.29Z" fill="#000" stroke="#000" stroke-width="0.6"/>
<path d="M374.8 66.2 L375.9 68.59 L378.51 68.89 L376.58 70.68 L377.09 73.26 L374.8 71.97 L372.51 73.26 L373.02 70.68 L371.09 68.89 L373.7 68.59Z" fill="#000" stroke="#000" stroke-width="0.6"/>
<path d="M391.7 66.3 L392.8 68.69 L395.41 68.99 L393.48 70.78 L393.99 73.36 L391.7 72.07 L389.41 73.36 L389.92 70.78 L387.99 68.99 L390.6 68.69Z" fill="#000" stroke="#000" stroke-width="0.6"/>
<path d="M408.6 76.9 L409.7 79.29 L412.31 79.59 L410.38 81.38 L410.89 83.96 L408.6 82.67 L406.31 83.96 L406.82 81.38 L404.89 79.59 L407.5 79.29Z" fill="#000" stroke="#000" stroke-width="0.6"/>
<path d="M425.5 127.3 L426.6 129.69 L429.21 129.99 L427.28 131.78 L427.79 134.36 L425.5 133.07 L423.21 134.36 L423.72 131.78 L421.79 129.99 L424.4 129.69Z" fill="#000" stroke="#000" stroke-width="0.6"/>
<path d="M442.4 143.1 L443.5 145.49 L446.11 145.79 L444.18 147.58 L444.69 150.16 L442.4 148.87 L440.11 150.16 L440.62 147.58 L438.69 145.79 L441.3 145.49Z" fill="#000" stroke="#000" stroke-width="0.6"/>
<path d="M459.3 154.5 L460.4 156.89 L463.01 157.19 L461.08 158.98 L461.59 161.56 L459.3 160.27 L457.01 161.56 L457.52 158.98 L455.59 157.19 L458.2 156.89Z" fill="#000" stroke="#000" stroke-width="0.6"/>
<path d="M476.2 158.1 L477.3 160.49 L479.91 160.79 L477.98 162.58 L478.49 165.16 L476.2 163.87 L473.91 165.16 L474.42 162.58 L472.49 160.79 L475.1 160.49Z" fill="#000" stroke="#000" stroke-width="0.6"/>
<path d="M493.1 159.4 L494.2 161.79 L496.81 162.09 L494.88 163.88 L495.39 166.46 L493.1 165.17 L490.81 166.46 L491.32 163.88 L489.39 162.09 L492 161.79Z" fill="#000" stroke="#000" stroke-width="0.6"/>
<path d="M510 160.1 L511.1 162.49 L513.71 162.79 L511.78 164.58 L512.29 167.16 L510 165.87 L507.71 167.16 L508.22 164.58 L506.29 162.79 L508.9 162.49Z" fill="#000" stroke="#000" stroke-width="0.6"/>
<circle cx="69.57" cy="381.2" r="2.3" fill="#000"/>
<circle cx="94.84" cy="383" r="2.3" fill="#000"/>
<circle cx="120.11" cy="383.3" r="2.3" fill="#000"/>
<circle cx="145.38" cy="383.3" r="2.3" fill="#000"/>
<circle cx="170.65" cy="383.3" r="2.3" fill="#000"/>
<circle cx="195.92" cy="383.3" r="2.3" fill="#000"/>
<circle cx="221.19" cy="383.3" r="2.3" fill="#000"/>
<circle cx="246.46" cy="383.3" r="2.3" fill="#000"/>
<path d="M69.57 246.6 L70.59 248.8 L72.99 249.09 L71.21 250.73 L71.69 253.11 L69.57 251.93 L67.45 253.11 L67.93 250.73 L66.15 249.09 L68.55 248.8Z" fill="#fff" stroke="#000" stroke-width="1.4" stroke-linejoin="round"/>
<path d="M94.84 291.9 L95.86 294.1 L98.26 294.39 L96.48 296.03 L96.96 298.41 L94.84 297.23 L92.72 298.41 L93.2 296.03 L91.42 294.39 L93.82 294.1Z" fill="#fff" stroke="#000" stroke-width="1.4" stroke-linejoin="round"/>
<path d="M120.11 303.9 L121.13 306.1 L123.53 306.39 L121.75 308.03 L122.23 310.41 L120.11 309.23 L117.99 310.41 L118.47 308.03 L116.69 306.39 L119.09 306.1Z" fill="#fff" stroke="#000" stroke-width="1.4" stroke-linejoin="round"/>
<path d="M145.38 335.6 L146.4 337.8 L148.8 338.09 L147.02 339.73 L147.5 342.11 L145.38 340.93 L143.26 342.11 L143.74 339.73 L141.96 338.09 L144.36 337.8Z" fill="#fff" stroke="#000" stroke-width="1.4" stroke-linejoin="round"/>
<path d="M170.65 346.6 L171.67 348.8 L174.07 349.09 L172.29 350.73 L172.77 353.11 L170.65 351.93 L168.53 353.11 L169.01 350.73 L167.23 349.09 L169.63 348.8Z" fill="#fff" stroke="#000" stroke-width="1.4" stroke-linejoin="round"/>
<path d="M195.92 362.7 L196.94 364.9 L199.34 365.19 L197.56 366.83 L198.04 369.21 L195.92 368.03 L193.8 369.21 L194.28 366.83 L192.5 365.19 L194.9 364.9Z" fill="#fff" stroke="#000" stroke-width="1.4" stroke-linejoin="round"/>
<path d="M221.19 370.8 L222.21 373 L224.61 373.29 L222.83 374.93 L223.31 377.31 L221.19 376.13 L219.07 377.31 L219.55 374.93 L217.77 373.29 L220.17 373Z" fill="#fff" stroke="#000" stroke-width="1.4" stroke-linejoin="round"/>
<path d="M246.46 374.9 L247.48 377.1 L249.88 377.39 L248.1 379.03 L248.58 381.41 L246.46 380.23 L244.34 381.41 L244.82 379.03 L243.04 377.39 L245.44 377.1Z" fill="#fff" stroke="#000" stroke-width="1.4" stroke-linejoin="round"/>
<circle cx="69.57" cy="275.8" r="2.8" fill="#fff" stroke="#000" stroke-width="1.2"/>
<circle cx="94.84" cy="295" r="2.8" fill="#fff" stroke="#000" stroke-width="1.2"/>
<circle cx="120.11" cy="307" r="2.8" fill="#fff" stroke="#000" stroke-width="1.2"/>
<circle cx="145.38" cy="327.7" r="2.8" fill="#fff" stroke="#000" stroke-width="1.2"/>
<circle cx="170.65" cy="331" r="2.8" fill="#fff" stroke="#000" stroke-width="1.2"/>
<circle cx="195.92" cy="351" r="2.8" fill="#fff" stroke="#000" stroke-width="1.2"/>
<circle cx="221.19" cy="365" r="2.8" fill="#fff" stroke="#000" stroke-width="1.2"/>
<circle cx="246.46" cy="375.8" r="2.8" fill="#fff" stroke="#000" stroke-width="1.2"/>
<path d="M69.57 240.5 L70.67 242.89 L73.28 243.19 L71.35 244.98 L71.86 247.56 L69.57 246.27 L67.28 247.56 L67.79 244.98 L65.86 243.19 L68.47 242.89Z" fill="#000" stroke="#000" stroke-width="0.6"/>
<path d="M94.84 273.8 L95.94 276.19 L98.55 276.49 L96.62 278.28 L97.13 280.86 L94.84 279.57 L92.55 280.86 L93.06 278.28 L91.13 276.49 L93.74 276.19Z" fill="#000" stroke="#000" stroke-width="0.6"/>
<path d="M120.11 278 L121.21 280.39 L123.82 280.69 L121.89 282.48 L122.4 285.06 L120.11 283.77 L117.82 285.06 L118.33 282.48 L116.4 280.69 L119.01 280.39Z" fill="#000" stroke="#000" stroke-width="0.6"/>
<path d="M145.38 316.9 L146.48 319.29 L149.09 319.59 L147.16 321.38 L147.67 323.96 L145.38 322.67 L143.09 323.96 L143.6 321.38 L141.67 319.59 L144.28 319.29Z" fill="#000" stroke="#000" stroke-width="0.6"/>
<path d="M170.65 330.5 L171.75 332.89 L174.36 333.19 L172.43 334.98 L172.94 337.56 L170.65 336.27 L168.36 337.56 L168.87 334.98 L166.94 333.19 L169.55 332.89Z" fill="#000" stroke="#000" stroke-width="0.6"/>
<path d="M195.92 353.1 L197.02 355.49 L199.63 355.79 L197.7 357.58 L198.21 360.16 L195.92 358.87 L193.63 360.16 L194.14 357.58 L192.21 355.79 L194.82 355.49Z" fill="#000" stroke="#000" stroke-width="0.6"/>
<path d="M221.19 365.9 L222.29 368.29 L224.9 368.59 L222.97 370.38 L223.48 372.96 L221.19 371.67 L218.9 372.96 L219.41 370.38 L217.48 368.59 L220.09 368.29Z" fill="#000" stroke="#000" stroke-width="0.6"/>
<path d="M246.46 374.6 L247.56 376.99 L250.17 377.29 L248.24 379.08 L248.75 381.66 L246.46 380.37 L244.17 381.66 L244.68 379.08 L242.75 377.29 L245.36 376.99Z" fill="#000" stroke="#000" stroke-width="0.6"/>
<path d="M322.5 318.3 L323.35 320.14 L325.35 320.37 L323.87 321.74 L324.26 323.73 L322.5 322.74 L320.74 323.73 L321.13 321.74 L319.65 320.37 L321.65 320.14Z" fill="#888" stroke="#000" stroke-width="1.2" stroke-linejoin="round"/>
<path d="M343.17 349 L344.02 350.84 L346.02 351.07 L344.54 352.44 L344.93 354.43 L343.17 353.44 L341.41 354.43 L341.8 352.44 L340.32 351.07 L342.32 350.84Z" fill="#888" stroke="#000" stroke-width="1.2" stroke-linejoin="round"/>
<path d="M363.84 360.8 L364.69 362.64 L366.69 362.87 L365.21 364.24 L365.6 366.23 L363.84 365.24 L362.08 366.23 L362.47 364.24 L360.99 362.87 L362.99 362.64Z" fill="#888" stroke="#000" stroke-width="1.2" stroke-linejoin="round"/>
<path d="M384.51 365.8 L385.36 367.64 L387.36 367.87 L385.88 369.24 L386.27 371.23 L384.51 370.24 L382.75 371.23 L383.14 369.24 L381.66 367.87 L383.66 367.64Z" fill="#888" stroke="#000" stroke-width="1.2" stroke-linejoin="round"/>
<path d="M405.18 368.2 L406.03 370.04 L408.03 370.27 L406.55 371.64 L406.94 373.63 L405.18 372.64 L403.42 373.63 L403.81 371.64 L402.33 370.27 L404.33 370.04Z" fill="#888" stroke="#000" stroke-width="1.2" stroke-linejoin="round"/>
<path d="M425.85 369 L426.7 370.84 L428.7 371.07 L427.22 372.44 L427.61 374.43 L425.85 373.44 L424.09 374.43 L424.48 372.44 L423 371.07 L425 370.84Z" fill="#888" stroke="#000" stroke-width="1.2" stroke-linejoin="round"/>
<path d="M446.52 369 L447.37 370.84 L449.37 371.07 L447.89 372.44 L448.28 374.43 L446.52 373.44 L444.76 374.43 L445.15 372.44 L443.67 371.07 L445.67 370.84Z" fill="#888" stroke="#000" stroke-width="1.2" stroke-linejoin="round"/>
<path d="M467.19 369 L468.04 370.84 L470.04 371.07 L468.56 372.44 L468.95 374.43 L467.19 373.44 L465.43 374.43 L465.82 372.44 L464.34 371.07 L466.34 370.84Z" fill="#888" stroke="#000" stroke-width="1.2" stroke-linejoin="round"/>
<path d="M487.86 369 L488.71 370.84 L490.71 371.07 L489.23 372.44 L489.62 374.43 L487.86 373.44 L486.1 374.43 L486.49 372.44 L485.01 371.07 L487.01 370.84Z" fill="#888" stroke="#000" stroke-width="1.2" stroke-linejoin="round"/>
<path d="M508.53 369 L509.38 370.84 L511.38 371.07 L509.9 372.44 L510.29 374.43 L508.53 373.44 L506.77 374.43 L507.16 372.44 L505.68 371.07 L507.68 370.84Z" fill="#888" stroke="#000" stroke-width="1.2" stroke-linejoin="round"/>
<circle cx="322.5" cy="292.5" r="2.9" fill="#000"/>
<circle cx="343.17" cy="331.2" r="2.9" fill="#000"/>
<circle cx="363.84" cy="319.3" r="2.9" fill="#000"/>
<circle cx="384.51" cy="331.2" r="2.9" fill="#000"/>
<circle cx="405.18" cy="346.3" r="2.9" fill="#000"/>
<circle cx="425.85" cy="358.8" r="2.9" fill="#000"/>
<circle cx="446.52" cy="366.5" r="2.9" fill="#000"/>
<circle cx="467.19" cy="369.5" r="2.9" fill="#000"/>
<circle cx="487.86" cy="370.5" r="2.9" fill="#000"/>
<circle cx="508.53" cy="371" r="2.9" fill="#000"/>
<circle cx="322.5" cy="261.2" r="2.5" fill="#fff" stroke="#000" stroke-width="1.2"/>
<circle cx="343.17" cy="306.4" r="2.5" fill="#fff" stroke="#000" stroke-width="1.2"/>
<circle cx="363.84" cy="284.8" r="2.5" fill="#fff" stroke="#000" stroke-width="1.2"/>
<circle cx="384.51" cy="299.9" r="2.5" fill="#fff" stroke="#000" stroke-width="1.2"/>
<circle cx="405.18" cy="322.6" r="2.5" fill="#fff" stroke="#000" stroke-width="1.2"/>
<circle cx="425.85" cy="345.5" r="2.5" fill="#fff" stroke="#000" stroke-width="1.2"/>
<circle cx="446.52" cy="359" r="2.5" fill="#fff" stroke="#000" stroke-width="1.2"/>
<circle cx="467.19" cy="364" r="2.5" fill="#fff" stroke="#000" stroke-width="1.2"/>
<circle cx="487.86" cy="366" r="2.5" fill="#fff" stroke="#000" stroke-width="1.2"/>
<circle cx="508.53" cy="368.5" r="2.5" fill="#fff" stroke="#000" stroke-width="1.2"/>
<path d="M322.5 235.2 L323.76 237.36 L326.21 237.89 L324.54 239.76 L324.79 242.26 L322.5 241.25 L320.21 242.26 L320.46 239.76 L318.79 237.89 L321.24 237.36Z" fill="#ccc" stroke="#000" stroke-width="1.0" stroke-linejoin="round"/>
<path d="M343.17 292.3 L344.43 294.46 L346.88 294.99 L345.21 296.86 L345.46 299.36 L343.17 298.34 L340.88 299.36 L341.13 296.86 L339.46 294.99 L341.91 294.46Z" fill="#ccc" stroke="#000" stroke-width="1.0" stroke-linejoin="round"/>
<path d="M363.84 301.4 L365.1 303.56 L367.55 304.09 L365.88 305.96 L366.13 308.46 L363.84 307.44 L361.55 308.46 L361.8 305.96 L360.13 304.09 L362.58 303.56Z" fill="#ccc" stroke="#000" stroke-width="1.0" stroke-linejoin="round"/>
<path d="M384.51 315.4 L385.77 317.56 L388.22 318.09 L386.55 319.96 L386.8 322.46 L384.51 321.44 L382.22 322.46 L382.47 319.96 L380.8 318.09 L383.25 317.56Z" fill="#ccc" stroke="#000" stroke-width="1.0" stroke-linejoin="round"/>
<path d="M405.18 341.1 L406.44 343.26 L408.89 343.79 L407.22 345.66 L407.47 348.16 L405.18 347.14 L402.89 348.16 L403.14 345.66 L401.47 343.79 L403.92 343.26Z" fill="#ccc" stroke="#000" stroke-width="1.0" stroke-linejoin="round"/>
<path d="M425.85 350.1 L427.11 352.26 L429.56 352.79 L427.89 354.66 L428.14 357.16 L425.85 356.14 L423.56 357.16 L423.81 354.66 L422.14 352.79 L424.59 352.26Z" fill="#ccc" stroke="#000" stroke-width="1.0" stroke-linejoin="round"/>
<path d="M446.52 356.1 L447.78 358.26 L450.23 358.79 L448.56 360.66 L448.81 363.16 L446.52 362.14 L444.23 363.16 L444.48 360.66 L442.81 358.79 L445.26 358.26Z" fill="#ccc" stroke="#000" stroke-width="1.0" stroke-linejoin="round"/>
<path d="M467.19 360.7 L468.45 362.86 L470.9 363.39 L469.23 365.26 L469.48 367.76 L467.19 366.75 L464.9 367.76 L465.15 365.26 L463.48 363.39 L465.93 362.86Z" fill="#ccc" stroke="#000" stroke-width="1.0" stroke-linejoin="round"/>
<path d="M487.86 362.1 L489.12 364.26 L491.57 364.79 L489.9 366.66 L490.15 369.16 L487.86 368.14 L485.57 369.16 L485.82 366.66 L484.15 364.79 L486.6 364.26Z" fill="#ccc" stroke="#000" stroke-width="1.0" stroke-linejoin="round"/>
<path d="M508.53 365.1 L509.79 367.26 L512.24 367.79 L510.57 369.66 L510.82 372.16 L508.53 371.14 L506.24 372.16 L506.49 369.66 L504.82 367.79 L507.27 367.26Z" fill="#ccc" stroke="#000" stroke-width="1.0" stroke-linejoin="round"/>
<path d="M320.1 239.1 L324.9 239.1 M320.7 237.3 L324.3 240.9 M320.7 240.9 L324.3 237.3" stroke="#222" stroke-width="0.8"/>
<path d="M340.77 296.2 L345.57 296.2 M341.37 294.4 L344.97 298 M341.37 298 L344.97 294.4" stroke="#222" stroke-width="0.8"/>
<path d="M361.44 305.3 L366.24 305.3 M362.04 303.5 L365.64 307.1 M362.04 307.1 L365.64 303.5" stroke="#222" stroke-width="0.8"/>
<path d="M382.11 319.3 L386.91 319.3 M382.71 317.5 L386.31 321.1 M382.71 321.1 L386.31 317.5" stroke="#222" stroke-width="0.8"/>
<path d="M402.78 345 L407.58 345 M403.38 343.2 L406.98 346.8 M403.38 346.8 L406.98 343.2" stroke="#222" stroke-width="0.8"/>
<path d="M423.45 354 L428.25 354 M424.05 352.2 L427.65 355.8 M424.05 355.8 L427.65 352.2" stroke="#222" stroke-width="0.8"/>
<path d="M444.12 360 L448.92 360 M444.72 358.2 L448.32 361.8 M444.72 361.8 L448.32 358.2" stroke="#222" stroke-width="0.8"/>
<path d="M464.79 364.6 L469.59 364.6 M465.39 362.8 L468.99 366.4 M465.39 366.4 L468.99 362.8" stroke="#222" stroke-width="0.8"/>
<path d="M485.46 366 L490.26 366 M486.06 364.2 L489.66 367.8 M486.06 367.8 L489.66 364.2" stroke="#222" stroke-width="0.8"/>
<path d="M506.13 369 L510.93 369 M506.73 367.2 L510.33 370.8 M506.73 370.8 L510.33 367.2" stroke="#222" stroke-width="0.8"/>
</svg>
</body></html>
